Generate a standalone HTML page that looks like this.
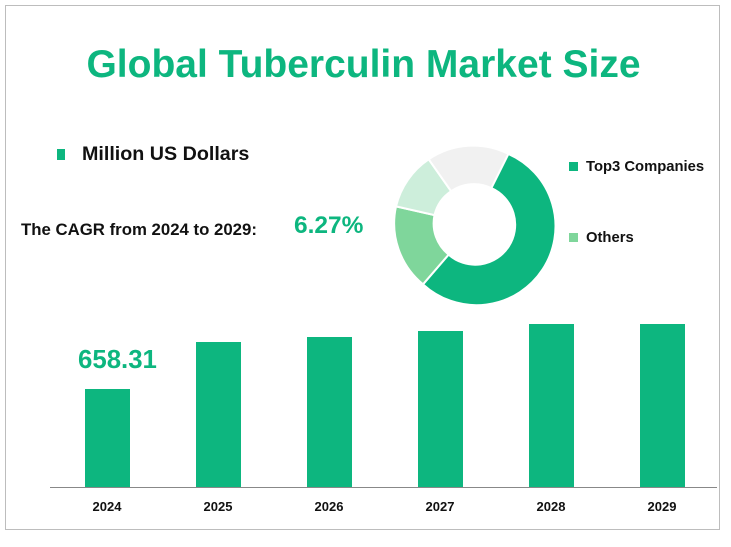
<!DOCTYPE html>
<html><head><meta charset="utf-8"><style>
body{margin:0;width:731px;height:547px;background:#fff;position:relative;font-family:"Liberation Sans",sans-serif;overflow:hidden}
.frame{position:absolute;left:5px;top:5px;width:713px;height:523px;border:1px solid #bdbdbd}
.t{position:absolute;white-space:nowrap;font-weight:bold}
.bar{position:absolute;background:#0db67f;width:45px}
.yl{position:absolute;top:499px;width:60px;text-align:center;font-size:13px;font-weight:bold;color:#111}
</style></head><body>
<div class="frame"></div>
<div class="t" style="left:0;width:727px;text-align:center;top:43px;font-size:39px;color:#0db67f">Global Tuberculin Market Size</div>
<div style="position:absolute;left:57px;top:149px;width:8px;height:11px;background:#0db67f"></div>
<div class="t" style="left:82px;top:143px;font-size:19.7px;color:#111">Million US Dollars</div>
<div class="t" style="left:21px;top:220px;font-size:16.8px;color:#111">The CAGR from 2024 to 2029:</div>
<div class="t" style="left:294px;top:212px;font-size:24.5px;color:#0db67f">6.27%</div>
<svg style="position:absolute;left:0;top:0" width="731" height="547">
<g stroke="#fff" stroke-width="2">
<path d="M508.4,153.9 A79,79 0 1 1 423.0,284.3 L448.6,254.6 A40,40 0 1 0 491.3,188.1Z" fill="#0db67f"/>
<path d="M423.0,284.3 A79,79 0 0 1 396.0,206.4 L434.5,215.1 A40,40 0 0 0 448.6,254.6Z" fill="#7fd69b"/>
<path d="M396.0,206.4 A79,79 0 0 1 428.7,159.3 L451.1,191.2 A40,40 0 0 0 434.5,215.1Z" fill="#cdeedb"/>
<path d="M428.7,159.3 A79,79 0 0 1 508.4,153.9 L491.3,188.1 A40,40 0 0 0 451.1,191.2Z" fill="#f1f1f1"/>
</g>
<line x1="50" y1="487.5" x2="717" y2="487.5" stroke="#888" stroke-width="1"/>
</svg>
<div style="position:absolute;left:569px;top:162px;width:9px;height:9px;background:#0db67f"></div>
<div class="t" style="left:586px;top:159px;font-size:14.8px;color:#111">Top3 Companies</div>
<div style="position:absolute;left:569px;top:233px;width:9px;height:9px;background:#7fd69b"></div>
<div class="t" style="left:586px;top:230px;font-size:14.8px;color:#111">Others</div>
<div class="t" style="left:78px;top:346px;font-size:25.8px;color:#0db67f">658.31</div>
<div class="bar" style="left:85px;top:389px;height:98px"></div>
<div class="bar" style="left:196px;top:342px;height:145px"></div>
<div class="bar" style="left:307px;top:337px;height:150px"></div>
<div class="bar" style="left:418px;top:331px;height:156px"></div>
<div class="bar" style="left:529px;top:324px;height:163px"></div>
<div class="bar" style="left:640px;top:324px;height:163px"></div>
<div class="yl" style="left:77px">2024</div>
<div class="yl" style="left:188px">2025</div>
<div class="yl" style="left:299px">2026</div>
<div class="yl" style="left:410px">2027</div>
<div class="yl" style="left:521px">2028</div>
<div class="yl" style="left:632px">2029</div>
</body></html>
